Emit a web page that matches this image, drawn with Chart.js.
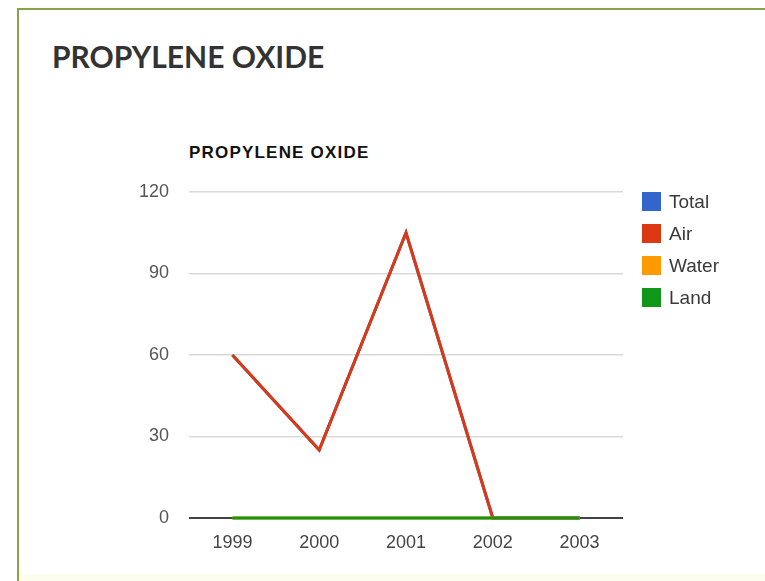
<!DOCTYPE html>
<html>
<head>
<meta charset="utf-8">
<script src="https://cdn.jsdelivr.net/npm/chart.js@4"></script>
<style>
  html, body { margin: 0; padding: 0; background: #fff; }
  #wrap { position: relative; width: 765px; height: 581px; overflow: hidden; background: #fff; }
  #panel { position: absolute; left: 17px; top: 8px; width: 800px; height: 600px;
           border-top: 2px solid #86a447; border-left: 2px solid #86a447; box-sizing: border-box; }
  #foot { position: absolute; left: 19px; top: 574px; width: 760px; height: 8px; background: #fdfdee; }
  #pageTitle { position: absolute; left: 52px; top: 38px; font: 700 30px Lato, sans-serif;
               color: #333; letter-spacing: 0px; white-space: nowrap; }
  #chartTitle { position: absolute; left: 189px; top: 143px; font: 700 17px "Liberation Sans", Arial, sans-serif;
                color: #111; letter-spacing: 1.2px; white-space: nowrap; }
  canvas { position: absolute; left: 0; top: 0; }
</style>
</head>
<body>
<div id="wrap">
  <div id="panel"></div>
  <div id="foot"></div>
  <div id="pageTitle">PROPYLENE OXIDE</div>
  <div id="chartTitle">PROPYLENE OXIDE</div>
  <canvas id="c" width="765" height="581"></canvas>
</div>
<script>
const years = ['1999', '2000', '2001', '2002', '2003'];
const totalValues = [60, 25, 105, 0, 0];
const airValues   = [60, 25, 105, 0, 0];
const waterValues = [0, 0, 0, 0, 0];
const landValues  = [0, 0, 0, 0, 0];
const yTicks = [0, 30, 60, 90, 120];

const seriesNames = ['Total', 'Air', 'Water', 'Land'];
const seriesColors = ['#3366cc', '#dc3912', '#ff9900', '#109618'];
const seriesValues = [totalValues, airValues, waterValues, landValues];

const labelFont = '"Liberation Sans", Arial, sans-serif';

// Legend drawn at the right of the plot, one row per series
const sideLegend = {
  id: 'sideLegend',
  afterDraw(chart) {
    const ctx = chart.ctx;
    ctx.save();
    ctx.font = '19px ' + labelFont;
    ctx.textBaseline = 'middle';
    chart.data.datasets.forEach((ds, i) => {
      const y = 202 + i * 32;
      ctx.fillStyle = ds.borderColor;
      ctx.fillRect(642, y - 10, 19, 19);
      ctx.fillStyle = '#3a3a3a';
      ctx.fillText(ds.label, 669, y + 1);
    });
    ctx.restore();
  }
};

new Chart(document.getElementById('c'), {
  type: 'line',
  data: {
    labels: years,
    datasets: seriesNames.map((name, i) => ({
      label: name,
      data: seriesValues[i],
      borderColor: seriesColors[i],
      backgroundColor: seriesColors[i],
      borderWidth: 3,
      pointRadius: 0,
      tension: 0,
      fill: false,
      clip: false,
      order: seriesNames.length - i
    }))
  },
  options: {
    responsive: false,
    animation: false,
    layout: { padding: { left: 0, right: 142, top: 192, bottom: 23 } },
    plugins: { legend: { display: false }, title: { display: false }, tooltip: { enabled: false } },
    scales: {
      x: {
        offset: true,
        grid: { display: false, drawTicks: false },
        border: { display: false },
        ticks: { color: '#444', padding: 14, font: { size: 18, family: labelFont } },
        afterFit(scale) { scale.height = 40; }
      },
      y: {
        min: 0, max: 120,
        afterBuildTicks(scale) { scale.ticks = yTicks.map(v => ({ value: v })); },
        grid: {
          drawTicks: false,
          color: ctx => ctx.tick && ctx.tick.value === 0 ? '#444' : '#d9d9d9',
          lineWidth: ctx => ctx.tick && ctx.tick.value === 0 ? 2 : 1.5
        },
        border: { display: false },
        ticks: { color: '#555', padding: 20, font: { size: 18, family: labelFont } },
        afterFit(scale) { scale.width = 189; }
      }
    }
  },
  plugins: [sideLegend]
});
</script>
</body>
</html>
